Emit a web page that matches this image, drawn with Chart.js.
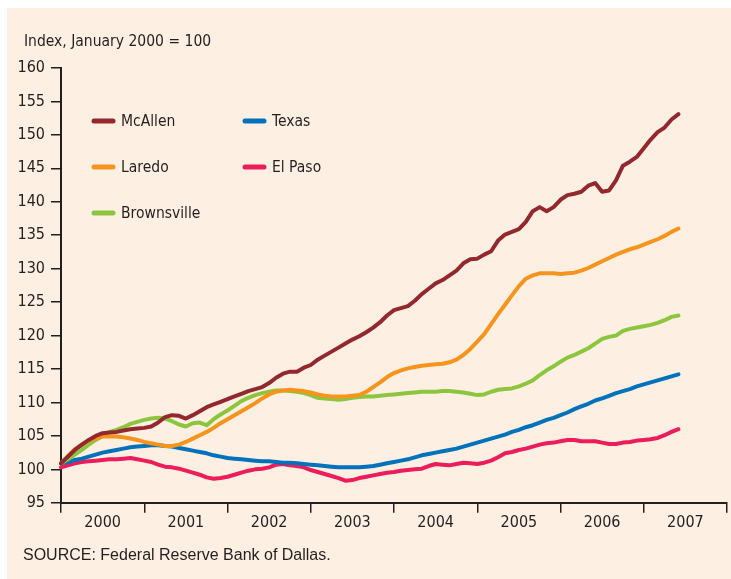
<!DOCTYPE html>
<html>
<head>
<meta charset="utf-8">
<script src="https://cdn.jsdelivr.net/npm/chart.js@4.4.1/dist/chart.umd.min.js"></script>
<style>
  body { margin: 0; background: #ffffff; }
  #panel { position: absolute; left: 7px; top: 8px; width: 724px; height: 571px; background: #fdf0e2; }
  #myChart { position: absolute; left: 0; top: 0; }
  .note { position: absolute; color: #231f20; white-space: nowrap; }
  #title { left: 17px; top: 23px; font: 15.5px "Liberation Sans Narrow", "DejaVu Sans Condensed", sans-serif; line-height: 20px; }
  #source { left: 16px; top: 537px; font: 16px "Liberation Sans", Arial, sans-serif; line-height: 20px; }
</style>
</head>
<body>
<div id="panel">
  <canvas id="myChart" width="724" height="571"></canvas>
  <div class="note" id="title">Index, January 2000 = 100</div>
  <div class="note" id="source">SOURCE: Federal Reserve Bank of Dallas.</div>
</div>
<script>
let years = [2000, 2001, 2002, 2003, 2004, 2005, 2006, 2007]
let monthNames = ["Jan","Feb","Mar","Apr","May","Jun","Jul","Aug","Sep","Oct","Nov","Dec"]

// monthly index values, Jan 2000 .. Jun 2007
let mcallen = [100.9, 101.9, 102.9, 103.7, 104.4, 105.0, 105.4, 105.5, 105.6, 105.8,
    106.0, 106.1, 106.2, 106.4, 107.0, 107.8, 108.1, 108.0, 107.6, 108.1,
    108.7, 109.3, 109.7, 110.1, 110.5, 110.9, 111.3, 111.7, 112.0, 112.3,
    112.9, 113.7, 114.3, 114.6, 114.6, 115.2, 115.6, 116.4, 117.0, 117.6,
    118.2, 118.8, 119.4, 119.9, 120.5, 121.2, 122.0, 123.0, 123.8, 124.1,
    124.4, 125.2, 126.2, 127.0, 127.8, 128.3, 129.0, 129.7, 130.8, 131.4,
    131.5, 132.1, 132.6, 134.2, 135.1, 135.5, 135.9, 137.0, 138.6, 139.2,
    138.6, 139.2, 140.3, 141.0, 141.2, 141.5, 142.4, 142.8, 141.5, 141.7,
    143.2, 145.4, 146.0, 146.7, 148.0, 149.3, 150.4, 151.1, 152.3, 153.1]
let laredo = [100.9, 102.0, 103.0, 103.7, 104.3, 104.6, 104.9, 104.9, 104.9, 104.8,
    104.6, 104.4, 104.1, 103.9, 103.7, 103.5, 103.5, 103.7, 104.1, 104.6,
    105.1, 105.6, 106.2, 106.9, 107.5, 108.1, 108.7, 109.3, 109.9, 110.6,
    111.2, 111.6, 111.8, 111.9, 111.8, 111.7, 111.5, 111.2, 111.0, 110.9,
    110.9, 110.9, 111.0, 111.1, 111.6, 112.3, 113.0, 113.8, 114.4, 114.8,
    115.1, 115.3, 115.5, 115.6, 115.7, 115.8, 116.0, 116.4, 117.1, 118.0,
    119.1, 120.2, 121.7, 123.2, 124.6, 126.0, 127.4, 128.5, 129.0, 129.3,
    129.3, 129.3, 129.2, 129.3, 129.4, 129.7, 130.1, 130.6, 131.1, 131.6,
    132.1, 132.5, 132.9, 133.2, 133.6, 134.0, 134.4, 134.9, 135.5, 136.0]
let brownsville = [100.9, 101.5, 102.2, 102.9, 103.7, 104.4, 105.0, 105.6, 105.9, 106.3,
    106.8, 107.1, 107.4, 107.6, 107.7, 107.6, 107.2, 106.7, 106.4, 106.9,
    107.0, 106.6, 107.5, 108.2, 108.8, 109.5, 110.2, 110.7, 111.1, 111.4,
    111.6, 111.8, 111.8, 111.7, 111.6, 111.4, 111.1, 110.7, 110.6, 110.5,
    110.4, 110.5, 110.7, 110.8, 110.9, 110.9, 111.0, 111.1, 111.2, 111.3,
    111.4, 111.5, 111.6, 111.6, 111.6, 111.7, 111.7, 111.6, 111.5, 111.3,
    111.1, 111.2, 111.6, 111.9, 112.0, 112.1, 112.4, 112.8, 113.3, 114.1,
    114.8, 115.4, 116.1, 116.7, 117.1, 117.6, 118.1, 118.8, 119.5, 119.8,
    120.0, 120.7, 121.0, 121.2, 121.4, 121.6, 121.9, 122.3, 122.8, 123.0]
let texas = [100.9, 101.1, 101.4, 101.6, 101.9, 102.2, 102.5, 102.7, 102.9, 103.1,
    103.3, 103.4, 103.5, 103.6, 103.6, 103.5, 103.4, 103.2, 103.0, 102.8,
    102.6, 102.4, 102.1, 101.9, 101.7, 101.6, 101.5, 101.4, 101.3, 101.2,
    101.2, 101.1, 101.0, 101.0, 100.9, 100.8, 100.7, 100.6, 100.5, 100.4,
    100.3, 100.3, 100.3, 100.3, 100.4, 100.5, 100.7, 100.9, 101.1, 101.3,
    101.5, 101.8, 102.1, 102.3, 102.5, 102.7, 102.9, 103.1, 103.4, 103.7,
    104.0, 104.3, 104.6, 104.9, 105.2, 105.6, 105.9, 106.3, 106.6, 107.0,
    107.4, 107.7, 108.1, 108.5, 109.0, 109.4, 109.8, 110.3, 110.6, 111.0,
    111.4, 111.7, 112.0, 112.4, 112.7, 113.0, 113.3, 113.6, 113.9, 114.2]
let elPaso = [100.3, 100.6, 100.9, 101.1, 101.2, 101.3, 101.4, 101.5, 101.5, 101.6,
    101.7, 101.5, 101.3, 101.1, 100.7, 100.4, 100.3, 100.1, 99.8, 99.5,
    99.2, 98.8, 98.6, 98.7, 98.9, 99.2, 99.5, 99.8, 100.0, 100.1,
    100.3, 100.7, 100.8, 100.6, 100.5, 100.3, 99.9, 99.6, 99.3, 99.0,
    98.7, 98.3, 98.4, 98.7, 98.9, 99.1, 99.3, 99.5, 99.6, 99.8,
    99.9, 100.0, 100.1, 100.5, 100.8, 100.7, 100.6, 100.8, 101.0, 100.9,
    100.8, 101.0, 101.3, 101.8, 102.4, 102.6, 102.9, 103.1, 103.4, 103.7,
    103.9, 104.0, 104.2, 104.4, 104.4, 104.2, 104.2, 104.2, 104.0, 103.8,
    103.8, 104.0, 104.1, 104.3, 104.4, 104.5, 104.7, 105.1, 105.6, 106.0]

let seriesNames = ["McAllen", "Laredo", "Brownsville", "Texas", "El Paso"]
let seriesColors = ["#93292f", "#f7941d", "#8cc63f", "#0072bc", "#ed1c5b"]
let seriesData = [mcallen, laredo, brownsville, texas, elPaso]

let axisColor = "#231f20"
let narrowFont = '"Liberation Sans Narrow", "DejaVu Sans Condensed", sans-serif'

// month labels, Jan 2000 .. Jan 2008
let labels = []
years.forEach(y => monthNames.forEach(m => labels.push(m + " " + y)))
labels.push("Jan 2008")

// legend in two columns inside the plot
const boxLegend = {
    id: 'boxLegend',
    afterDraw(chart) {
        const ctx = chart.ctx
        const area = chart.chartArea
        ctx.save()
        chart.data.datasets.forEach((ds, i) => {
            let col = i < 3 ? 0 : 1
            let row = i < 3 ? i : i - 3
            let x = area.left + 31 + col * 151
            let y = area.top + 53 + row * 46
            ctx.strokeStyle = ds.borderColor
            ctx.lineWidth = 5
            ctx.lineCap = 'round'
            ctx.beginPath()
            ctx.moveTo(x + 2, y)
            ctx.lineTo(x + 21, y)
            ctx.stroke()
            ctx.fillStyle = axisColor
            ctx.font = '15.5px ' + narrowFont
            ctx.textBaseline = 'middle'
            ctx.textAlign = 'left'
            ctx.fillText(ds.label, x + 29, y + 1)
        })
        ctx.restore()
    }
}

let chart = new Chart("myChart", {
    type: "line",
    data: {
        labels: labels,
        datasets: seriesData.map((d, i) => ({
            label: seriesNames[i],
            data: d,
            borderColor: seriesColors[i],
            backgroundColor: seriesColors[i],
            borderWidth: 4,
            pointRadius: 0,
            tension: 0,
            borderCapStyle: 'round',
            borderJoinStyle: 'round',
            fill: false
        }))
    },
    options: {
        responsive: false,
        animation: false,
        devicePixelRatio: 1,
        layout: { padding: { left: 0, top: 60, right: 4, bottom: 47 } },
        plugins: {
            legend: { display: false },
            title: { display: false },
            tooltip: { enabled: false }
        },
        scales: {
            x: {
                offset: false,
                border: { display: true, color: axisColor, width: 2 },
                grid: {
                    drawOnChartArea: false,
                    drawTicks: true,
                    tickLength: 10,
                    lineWidth: 1.5,
                    color: c => (c.index % 12 === 0 ? axisColor : 'transparent')
                },
                ticks: {
                    autoSkip: false,
                    maxRotation: 0,
                    padding: 0,
                    color: axisColor,
                    font: { family: narrowFont, size: 16 },
                    callback: (v, i) => (i % 12 === 6 ? String(years[(i - 6) / 12]) : '')
                }
            },
            y: {
                min: 95,
                max: 160,
                afterFit: scale => { scale.width = 54 },
                border: { display: true, color: axisColor, width: 2 },
                grid: {
                    drawOnChartArea: false,
                    drawTicks: true,
                    tickLength: 10,
                    lineWidth: 1.5,
                    color: axisColor
                },
                ticks: {
                    stepSize: 5,
                    padding: 6,
                    color: axisColor,
                    font: { family: narrowFont, size: 16 }
                }
            }
        }
    },
    plugins: [boxLegend]
})
</script>
</body>
</html>
